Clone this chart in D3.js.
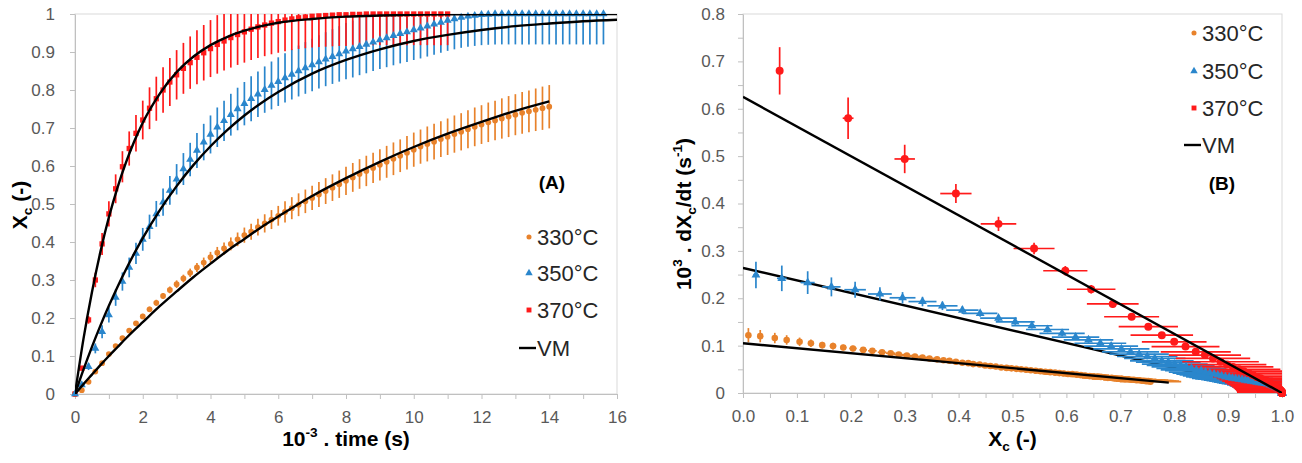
<!DOCTYPE html>
<html>
<head>
<meta charset="utf-8">
<script src="https://cdn.jsdelivr.net/npm/d3@7"></script>
<style>
  body { margin: 0; background: #fff; }
  text { font-family: "Liberation Sans", Arial, sans-serif; }
</style>
</head>
<body>
<svg id="chart"></svg>
<script>
// ---------- data ----------
// (A) conversion vs time, time in 10^3 s, one point every 0.2
const timeA = [0,0.2,0.4,0.6,0.8,1,1.2,1.4,1.6,1.8,2,2.2,2.4,2.6,2.8,3,3.2,3.4,3.6,3.8,
  4,4.2,4.4,4.6,4.8,5,5.2,5.4,5.6,5.8,6,6.2,6.4,6.6,6.8,7,7.2,7.4,7.6,7.8,
  8,8.2,8.4,8.6,8.8,9,9.2,9.4,9.6,9.8,10,10.2,10.4,10.6,10.8,11,11.2,11.4,11.6,11.8,
  12,12.2,12.4,12.6,12.8,13,13.2,13.4,13.6,13.8,14,14.2,14.4,14.6,14.8,15,15.2,15.4,15.6];

const x330 = [0,0.010,0.032,0.059,0.081,0.105,0.126,0.147,0.167,0.186,
  0.204,0.223,0.240,0.258,0.274,0.289,0.304,0.319,0.333,0.346,
  0.360,0.372,0.383,0.395,0.407,0.418,0.427,0.439,0.449,0.459,
  0.469,0.479,0.489,0.498,0.507,0.516,0.525,0.534,0.543,0.552,
  0.561,0.570,0.579,0.587,0.595,0.603,0.611,0.619,0.627,0.635,
  0.643,0.651,0.658,0.664,0.671,0.677,0.684,0.690,0.697,0.703,
  0.709,0.715,0.720,0.725,0.730,0.735,0.740,0.744,0.748,0.752,0.756];
const err330 = [0,0.001,0.002,0.003,0.004,0.004,0.005,0.005,0.006,0.006,
  0.007,0.007,0.008,0.008,0.009,0.010,0.010,0.011,0.012,0.013,
  0.014,0.015,0.016,0.017,0.018,0.020,0.021,0.022,0.024,0.025,
  0.026,0.028,0.029,0.030,0.031,0.032,0.033,0.034,0.035,0.036,
  0.037,0.038,0.039,0.040,0.040,0.041,0.042,0.043,0.043,0.044,
  0.045,0.045,0.046,0.047,0.047,0.048,0.049,0.049,0.050,0.051,
  0.051,0.052,0.052,0.053,0.054,0.054,0.055,0.055,0.056,0.057,0.057];

const x350 = [0,0.024,0.072,0.120,0.164,0.208,0.254,0.296,0.333,0.370,
  0.407,0.440,0.474,0.505,0.536,0.565,0.592,0.617,0.641,0.663,
  0.683,0.702,0.719,0.735,0.750,0.764,0.777,0.789,0.801,0.812,
  0.822,0.832,0.841,0.850,0.858,0.866,0.874,0.881,0.888,0.895,
  0.902,0.908,0.914,0.920,0.926,0.932,0.937,0.943,0.948,0.953,
  0.958,0.963,0.968,0.973,0.978,0.983,0.987,0.991,0.994,0.996,
  0.998,0.999,1,1,1,1,1,1,1,1,1,1,1,1,1,1,1,1,1];
const err350 = [0,0.005,0.009,0.013,0.017,0.020,0.022,0.024,0.026,0.028,
  0.030,0.032,0.034,0.036,0.038,0.040,0.042,0.044,0.046,0.048,
  0.050,0.052,0.053,0.055,0.056,0.057,0.059,0.060,0.061,0.063,
  0.064,0.065,0.066,0.067,0.068,0.069,0.070,0.071,0.072,0.073,
  0.074,0.075,0.075,0.076,0.076,0.077,0.077,0.078,0.078,0.079,
  0.079,0.080,0.080,0.080,0.080,0.080,0.080,0.080,0.080,0.080,
  0.080,0.080,0.080,0.080,0.080,0.080,0.080,0.080,0.080,0.080,
  0.080,0.080,0.080,0.080,0.080,0.080,0.080,0.080,0.080];

const x370 = [0,0.068,0.195,0.300,0.395,0.474,0.540,0.598,0.646,0.686,
  0.721,0.752,0.777,0.800,0.821,0.840,0.857,0.872,0.886,0.898,
  0.909,0.920,0.929,0.938,0.946,0.953,0.960,0.966,0.971,0.976,
  0.980,0.984,0.987,0.990,0.992,0.994,0.995,0.996,0.997,0.998,
  0.998,0.999,0.999,1,1,1,1,1,1,1,1,1,1,1,1,1];
const err370 = [0,0.006,0.010,0.019,0.029,0.033,0.038,0.041,0.045,0.048,
  0.051,0.055,0.058,0.060,0.063,0.065,0.067,0.069,0.071,0.073,
  0.075,0.077,0.078,0.079,0.080,0.081,0.081,0.082,0.082,0.082,
  0.082,0.082,0.082,0.082,0.082,0.082,0.082,0.082,0.082,0.082,
  0.082,0.082,0.082,0.082,0.082,0.082,0.082,0.082,0.082,0.082,
  0.082,0.082,0.082,0.082,0.082,0.082];

// VM model curves in (A)
const vmTime = [0,0.25,0.5,0.75,1,1.25,1.5,1.75,2,2.5,3,3.5,4,4.5,5,5.5,6,7,8,9,10,11,12,13,14,15,16];
const vm330 = [0,0.026,0.051,0.076,0.100,0.123,0.146,0.168,0.189,0.231,0.270,0.308,0.343,0.377,
  0.408,0.439,0.467,0.521,0.568,0.611,0.650,0.685,0.716,0.745,0.770];
const vm350 = [0,0.064,0.124,0.180,0.232,0.281,0.327,0.370,0.410,0.483,0.547,0.603,0.652,0.695,
  0.733,0.766,0.795,0.843,0.879,0.907,0.929,0.945,0.958,0.968,0.975,0.981,0.985];
const vm370 = [0,0.145,0.268,0.374,0.465,0.542,0.608,0.665,0.714,0.790,0.847,0.888,0.918,0.940,
  0.956,0.968,0.977,0.987,0.993,0.996,0.998,0.999,0.999,1,1,1,1];

// (B) rate 10^3 dXc/dt (s-1), aligned with the conversion points above (first point not shown)
const rate330 = [null,0.122,0.120,0.116,0.112,0.108,0.105,0.101,0.099,0.096,
  0.094,0.091,0.089,0.086,0.084,0.081,0.079,0.077,0.075,0.073,
  0.071,0.069,0.068,0.066,0.064,0.063,0.061,0.060,0.058,0.057,
  0.056,0.054,0.053,0.052,0.051,0.050,0.049,0.048,0.047,0.046,
  0.045,0.044,0.043,0.042,0.041,0.040,0.040,0.039,0.038,0.037,
  0.036,0.035,0.035,0.034,0.033,0.032,0.032,0.031,0.030,0.030,
  0.029,0.029,0.028,0.028,0.027,0.027,0.026,0.026,0.025,0.025,0.024];
const rateErr330 = [null,0.015,0.013,0.011,0.010,0.009,0.008,0.007,0.007,0.006,
  0.006,0.006,0.005,0.005,0.005,0.005,0.005,0.005,0.005,0.005,
  0.005,0.005,0.005,0.005,0.005,0.005,0.005,0.005,0.005,0.005,
  0.005,0.005,0.005,0.005,0.005,0.005,0.005,0.005,0.005,0.005,
  0.005,0.005,0.005,0.005,0.005,0.005,0.005,0.005,0.005,0.005,
  0.005,0.005,0.005,0.005,0.005,0.005,0.005,0.005,0.005,0.005,
  0.005,0.005,0.005,0.005,0.005,0.005,0.005,0.005,0.005,0.005,0.005];

const rate350 = [null,0.249,0.242,0.233,0.224,0.218,0.209,0.201,0.193,0.184,
  0.175,0.168,0.158,0.150,0.142,0.134,0.126,0.118,0.112,0.105,
  0.099,0.093,0.087,0.082,0.077,0.073,0.068,0.065,0.061,0.058,
  0.055,0.052,0.049,0.047,0.044,0.042,0.040,0.038,0.036,0.034,
  0.033,0.031,0.030,0.029,0.028,0.027,0.026,0.025,0.024,0.023,
  0.022,0.021,0.020,0.019,0.017,0.015,0.013,0.011,0.009,0.007,
  0.005,0.003,0.002,0.001,0.001,0.001,0,0,0,0,0,0,0,0,0,0,0,0,0];
const rateErr350 = [null,0.028,0.027,0.024,0.020,0.017,0.014,0.012,0.010,0.009,
  0.008,0.007,0.007,0.006,0.006,0.006,0.006,0.006,0.006,0.006,
  0.006,0.006,0.006,0.006,0.006,0.006,0.006,0.006,0.006,0.006,
  0.006,0.006,0.006,0.006,0.006,0.006,0.006,0.006,0.006,0.006,
  0.006,0.006,0.006,0.006,0.006,0.006,0.006,0.006,0.006,0.006,
  0.006,0.006,0.006,0.006,0.006,0.006,0.006,0.006,0.006,0.006,
  0.006,0.006,0.006,0.006,0.006,0.006,0.006,0.006,0.006,0.006,
  0.006,0.006,0.006,0.006,0.006,0.006,0.006,0.006,0.006];

const rate370 = [null,0.680,0.580,0.494,0.421,0.357,0.305,0.258,0.219,0.188,
  0.161,0.140,0.122,0.108,0.098,0.087,0.080,0.073,0.066,0.060,
  0.055,0.050,0.046,0.042,0.038,0.034,0.031,0.028,0.025,0.022,
  0.019,0.017,0.015,0.013,0.011,0.009,0.008,0.007,0.006,0.005,
  0.004,0.003,0.002,0.002,0.001,0.001,0.001,0.001,0,0,0,0,0,0,0,0];
const rateErr370 = [null,0.050,0.044,0.030,0.020,0.015,0.012,0.010,0.009,0.008,
  0.007,0.007,0.006,0.006,0.006,0.005,0.005,0.005,0.005,0.005,
  0.005,0.005,0.005,0.005,0.005,0.005,0.005,0.005,0.005,0.005,
  0.005,0.005,0.005,0.005,0.005,0.005,0.005,0.005,0.005,0.005,
  0.005,0.005,0.005,0.005,0.005,0.005,0.005,0.005,0.005,0.005,
  0.005,0.005,0.005,0.005,0.005,0.005];

// VM straight lines in (B)
const vmXc330 = [0,0.79], vmRate330 = [0.105,0.022];
const vmXc350 = [0,1], vmRate350 = [0.264,0];
const vmXc370 = [0,1], vmRate370 = [0.625,0];

// ticks
const timeTicks = [0,1,2,3,4,5,6,7,8,9,10,11,12,13,14,15,16];
const xcTicksA = [0,0.1,0.2,0.3,0.4,0.5,0.6,0.7,0.8,0.9,1];
const xcTicksB = [0,0.05,0.1,0.15,0.2,0.25,0.3,0.35,0.4,0.45,0.5,0.55,0.6,0.65,0.7,0.75,0.8,0.85,0.9,0.95,1];
const rateTicks = [0,0.05,0.1,0.15,0.2,0.25,0.3,0.35,0.4,0.45,0.5,0.55,0.6,0.65,0.7,0.75,0.8];
const legendLabels = ["330°C", "350°C", "370°C"];

// ---------- setup ----------
const width = 1302, height = 463;
const svg = d3.select("#chart").attr("width", width).attr("height", height);

const colors = ["#E8822B", "#2A86CC", "#FF1A1A"];
const shapes = [d3.symbolCircle, d3.symbolTriangle, d3.symbolSquare];
const gridGrey = "#c0c0c0";
const tickFont = 17;
const titleFont = 21;

const xA = d3.scaleLinear().domain([0, 16]).range([75, 617]);
const yA = d3.scaleLinear().domain([0, 1]).range([394, 14]);
const xB = d3.scaleLinear().domain([0, 1]).range([743, 1282]);
const yB = d3.scaleLinear().domain([0, 0.8]).range([393, 14]);

const seriesA = [
  {x: timeA.slice(0, x330.length), y: x330, e: err330},
  {x: timeA.slice(0, x350.length), y: x350, e: err350},
  {x: timeA.slice(0, x370.length), y: x370, e: err370}
];
const seriesB = [
  {x: x330, y: rate330, ex: err330, ey: rateErr330},
  {x: x350, y: rate350, ex: err350, ey: rateErr350},
  {x: x370, y: rate370, ex: err370, ey: rateErr370}
];

// rich text with sub / superscripts
function rich(text, parts, size) {
  let off = 0;
  parts.forEach(([t, kind]) => {
    const target = kind === "sup" ? -size * 0.42 : kind === "sub" ? size * 0.25 : 0;
    text.append("tspan").text(t)
      .attr("dy", target - off)
      .attr("font-size", kind ? size * 0.65 : size);
    off = target;
  });
}

function frame(x, y, idPrefix) {
  const [x0, x1] = x.range(), [y1, y0] = y.range();
  svg.append("rect").attr("x", x0).attr("y", y0).attr("width", x1 - x0).attr("height", y1 - y0)
    .attr("fill", "none").attr("stroke", "#d9d9d9").attr("stroke-width", 1);
  svg.append("clipPath").attr("id", idPrefix)
    .append("rect").attr("x", x0).attr("y", y0).attr("width", x1 - x0).attr("height", y1 - y0);
}

function styleAxis(g) {
  g.select(".domain").attr("stroke", gridGrey);
  g.selectAll(".tick line").attr("stroke", gridGrey);
  g.selectAll(".tick text").attr("fill", "#595959").attr("font-size", tickFont)
    .attr("font-family", "'Liberation Sans', Arial, sans-serif");
}

// ---------- panel A ----------
frame(xA, yA, "clipA");

svg.append("g").attr("transform", `translate(0,${yA(0)})`)
  .call(d3.axisBottom(xA).tickValues(timeTicks).tickSize(5).tickPadding(12).tickSizeOuter(0)
    .tickFormat(d => d % 2 === 0 ? d : ""))
  .call(styleAxis);
svg.append("g").attr("transform", `translate(${xA(0)},0)`)
  .call(d3.axisLeft(yA).tickValues(xcTicksA).tickSize(5).tickPadding(15).tickSizeOuter(0)
    .tickFormat(d => (d === 0 || d === 1) ? d : d.toFixed(1)))
  .call(styleAxis);

const barsA = svg.append("g").attr("clip-path", "url(#clipA)");
seriesA.forEach((s, k) => {
  barsA.append("g").selectAll("line")
    .data(d3.range(s.y.length).filter(i => s.e[i] > 0))
    .join("line")
    .attr("x1", i => xA(s.x[i])).attr("x2", i => xA(s.x[i]))
    .attr("y1", i => yA(s.y[i] - s.e[i])).attr("y2", i => yA(s.y[i] + s.e[i]))
    .attr("stroke", colors[k]).attr("stroke-width", 1.7);
});
[0, 2, 1].forEach(k => {
  const s = seriesA[k];
  svg.append("g").selectAll("path")
    .data(d3.range(s.y.length))
    .join("path")
    .attr("transform", i => `translate(${xA(s.x[i])},${yA(s.y[i])})`)
    .attr("d", d3.symbol().type(shapes[k]).size(k === 0 ? 26 : 28))
    .attr("fill", colors[k]);
});

const lineA = d3.line().x(d => xA(d[0])).y(d => yA(d[1])).curve(d3.curveMonotoneX);
const vmA = svg.append("g").attr("clip-path", "url(#clipA)");
[vm330, vm350, vm370].forEach(v => {
  vmA.append("path").attr("d", lineA(d3.zip(vmTime.slice(0, v.length), v)))
    .attr("fill", "none").attr("stroke", "#000").attr("stroke-width", 2.4);
});

// axis titles A
svg.append("text").attr("x", (xA(0) + xA(16)) / 2).attr("y", 446).attr("text-anchor", "middle")
  .attr("font-weight", "bold").attr("fill", "#000")
  .call(t => rich(t, [["10"], ["-3", "sup"], [" . time (s)"]], titleFont));
svg.append("text").attr("transform", "translate(27,205) rotate(-90)").attr("text-anchor", "middle")
  .attr("font-weight", "bold").attr("fill", "#000")
  .call(t => rich(t, [["X"], ["c", "sub"], [" (-)"]], titleFont));

// ---------- panel B ----------
frame(xB, yB, "clipB");

svg.append("g").attr("transform", `translate(0,${yB(0)})`)
  .call(d3.axisBottom(xB).tickValues(xcTicksB).tickSize(5).tickPadding(12).tickSizeOuter(0)
    .tickFormat(d => Math.round(d * 100) % 10 === 0 ? d.toFixed(1) : ""))
  .call(styleAxis);
svg.append("g").attr("transform", `translate(${xB(0)},0)`)
  .call(d3.axisLeft(yB).tickValues(rateTicks).tickSize(5).tickPadding(13).tickSizeOuter(0)
    .tickFormat(d => Math.round(d * 100) % 10 === 0 ? (d === 0 ? "0" : d.toFixed(1)) : ""))
  .call(styleAxis);

const lineB = d3.line().x(d => xB(d[0])).y(d => yB(d[1]));
function vmLineB(xs, ys) {
  svg.append("path").attr("clip-path", "url(#clipB)").attr("d", lineB(d3.zip(xs, ys)))
    .attr("fill", "none").attr("stroke", "#000").attr("stroke-width", 2.4);
}
vmLineB(vmXc350, vmRate350);

const barsB = svg.append("g").attr("clip-path", "url(#clipB)");
seriesB.forEach((s, k) => {
  const idx = d3.range(1, s.y.length);
  const g = barsB.append("g").attr("stroke", colors[k]).attr("stroke-width", 1.7);
  g.selectAll(".v").data(idx).join("line").attr("class", "v")
    .attr("x1", i => xB(s.x[i])).attr("x2", i => xB(s.x[i]))
    .attr("y1", i => yB(s.y[i] - s.ey[i])).attr("y2", i => yB(s.y[i] + s.ey[i]));
  g.selectAll(".h").data(idx.filter(i => s.ex[i] > 0)).join("line").attr("class", "h")
    .attr("x1", i => xB(s.x[i] - s.ex[i])).attr("x2", i => xB(s.x[i] + s.ex[i]))
    .attr("y1", i => yB(s.y[i])).attr("y2", i => yB(s.y[i]));
});
seriesB.forEach((s, k) => {
  svg.append("g").selectAll("path")
    .data(d3.range(1, s.y.length))
    .join("path")
    .attr("transform", i => `translate(${xB(s.x[i])},${yB(s.y[i])})`)
    .attr("d", d3.symbol().type(k === 1 ? d3.symbolTriangle : d3.symbolCircle).size(k === 2 ? 50 : 34))
    .attr("fill", colors[k]);
});
vmLineB(vmXc330, vmRate330);
vmLineB(vmXc370, vmRate370);

// axis titles B
svg.append("text").attr("x", (xB(0) + xB(1)) / 2).attr("y", 446).attr("text-anchor", "middle")
  .attr("font-weight", "bold").attr("fill", "#000")
  .call(t => rich(t, [["X"], ["c", "sub"], [" (-)"]], titleFont));
svg.append("text").attr("transform", "translate(691,214) rotate(-90)").attr("text-anchor", "middle")
  .attr("font-weight", "bold").attr("fill", "#000")
  .call(t => rich(t, [["10"], ["3", "sup"], [" . dX"], ["c", "sub"], ["/dt (s"], ["-1", "sup"], [")"]], titleFont));

// ---------- legends ----------
function legend(mx, ys, tag, tagX, tagY) {
  const g = svg.append("g");
  legendLabels.forEach((lab, k) => {
    g.append("path").attr("transform", `translate(${mx},${ys[k]})`)
      .attr("d", d3.symbol().type(shapes[k]).size(k === 0 ? 20 : 24)).attr("fill", colors[k]);
    g.append("text").attr("x", mx + 8).attr("y", ys[k]).attr("dy", "0.36em")
      .attr("font-size", 22).attr("fill", "#262626").text(lab);
  });
  g.append("line").attr("x1", mx - 10).attr("x2", mx + 7).attr("y1", ys[3]).attr("y2", ys[3])
    .attr("stroke", "#000").attr("stroke-width", 2.4);
  g.append("text").attr("x", mx + 8).attr("y", ys[3]).attr("dy", "0.36em")
    .attr("font-size", 22).attr("fill", "#262626").text("VM");
  g.append("text").attr("x", tagX).attr("y", tagY).attr("dy", "0.36em").attr("text-anchor", "middle")
    .attr("font-size", 19).attr("font-weight", "bold").attr("fill", "#000").text(tag);
}
legend(529, [237, 273, 310, 348], "(A)", 552, 182);
legend(1194, [33, 71, 108, 145], "(B)", 1222, 183);
</script>
</body>
</html>
